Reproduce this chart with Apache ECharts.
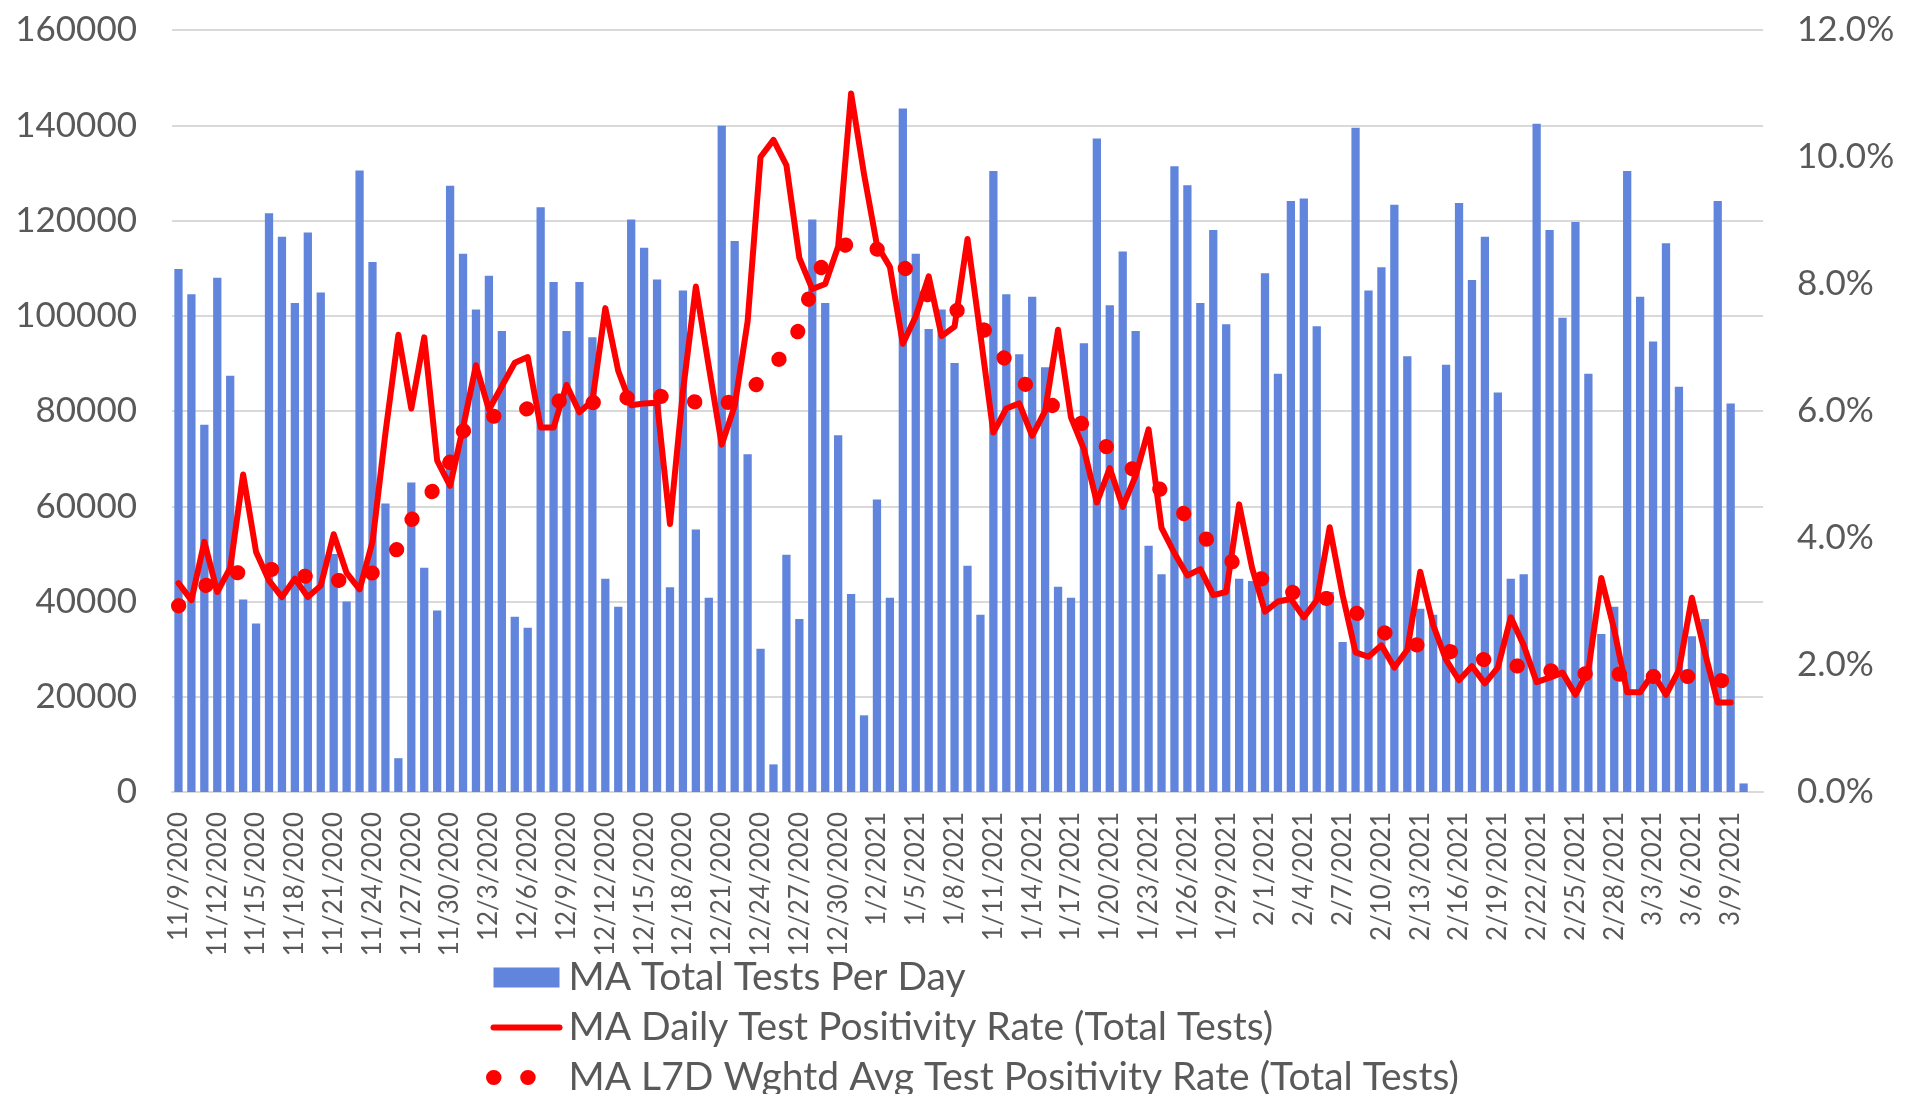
<!DOCTYPE html>
<html>
<head>
<meta charset="utf-8">
<script src="https://cdn.jsdelivr.net/npm/echarts@6/dist/echarts.min.js"></script>
<style>
  html, body { margin: 0; padding: 0; background: #ffffff; }
  #chart { width: 1907px; height: 1094px; }
</style>
</head>
<body>
<div id="chart"></div>
<script>
const dates = [
  "11/9/2020", "11/10/2020", "11/11/2020", "11/12/2020", "11/13/2020", "11/14/2020", "11/15/2020",
  "11/16/2020", "11/17/2020", "11/18/2020", "11/19/2020", "11/20/2020", "11/21/2020", "11/22/2020",
  "11/23/2020", "11/24/2020", "11/25/2020", "11/26/2020", "11/27/2020", "11/28/2020", "11/29/2020",
  "11/30/2020", "12/1/2020", "12/2/2020", "12/3/2020", "12/4/2020", "12/5/2020", "12/6/2020",
  "12/7/2020", "12/8/2020", "12/9/2020", "12/10/2020", "12/11/2020", "12/12/2020", "12/13/2020",
  "12/14/2020", "12/15/2020", "12/16/2020", "12/17/2020", "12/18/2020", "12/19/2020", "12/20/2020",
  "12/21/2020", "12/22/2020", "12/23/2020", "12/24/2020", "12/25/2020", "12/26/2020", "12/27/2020",
  "12/28/2020", "12/29/2020", "12/30/2020", "12/31/2020", "1/1/2021", "1/2/2021", "1/3/2021",
  "1/4/2021", "1/5/2021", "1/6/2021", "1/7/2021", "1/8/2021", "1/9/2021", "1/10/2021",
  "1/11/2021", "1/12/2021", "1/13/2021", "1/14/2021", "1/15/2021", "1/16/2021", "1/17/2021",
  "1/18/2021", "1/19/2021", "1/20/2021", "1/21/2021", "1/22/2021", "1/23/2021", "1/24/2021",
  "1/25/2021", "1/26/2021", "1/27/2021", "1/28/2021", "1/29/2021", "1/30/2021", "1/31/2021",
  "2/1/2021", "2/2/2021", "2/3/2021", "2/4/2021", "2/5/2021", "2/6/2021", "2/7/2021",
  "2/8/2021", "2/9/2021", "2/10/2021", "2/11/2021", "2/12/2021", "2/13/2021", "2/14/2021",
  "2/15/2021", "2/16/2021", "2/17/2021", "2/18/2021", "2/19/2021", "2/20/2021", "2/21/2021",
  "2/22/2021", "2/23/2021", "2/24/2021", "2/25/2021", "2/26/2021", "2/27/2021", "2/28/2021",
  "3/1/2021", "3/2/2021", "3/3/2021", "3/4/2021", "3/5/2021", "3/6/2021", "3/7/2021",
  "3/8/2021", "3/9/2021", "3/10/2021", "3/11/2021"
];

// total tests per day
const totalTests = [
  109800, 104500, 77100, 108000, 87400, 40400, 35400, 121500, 116600, 102700,
  117500, 104900, 50000, 40000, 130500, 111300, 60600, 7100, 65000, 47100,
  38100, 127300, 113000, 101300, 108400, 96800, 36800, 34500, 122800, 107100,
  96800, 107100, 95500, 44800, 38900, 120200, 114300, 107600, 43000, 105300,
  55100, 40800, 139900, 115700, 70900, 30100, 5800, 49800, 36300, 120200,
  102700, 74900, 41600, 16100, 61400, 40800, 143500, 113000, 97200, 101300,
  90100, 47500, 37200, 130400, 104500, 91900, 104000, 89200, 43100, 40800,
  94200, 137200, 102200, 113500, 96800, 51700, 45700, 131400, 127400, 102700,
  118000, 98200, 44800, 44300, 108900, 87800, 124100, 124600, 97800, 42000,
  31500, 139500, 105300, 110200, 123300, 91500, 38500, 37200, 89700, 123700,
  107500, 116600, 83900, 44800, 45700, 140300, 118000, 99600, 119700, 87800,
  33200, 38900, 130400, 104000, 94600, 115200, 85100, 32700, 36300, 124100,
  81600, 1800, null
];

// daily positivity rate, percent
const dailyRate = [
  3.29, 3.02, 3.94, 3.15, 3.53, 5.00, 3.78, 3.33, 3.07, 3.36,
  3.07, 3.25, 4.06, 3.45, 3.19, 3.94, 5.65, 7.20, 6.04, 7.16,
  5.22, 4.82, 5.74, 6.72, 6.02, 6.39, 6.76, 6.85, 5.74, 5.74,
  6.41, 5.98, 6.16, 7.62, 6.63, 6.09, 6.12, 6.13, 4.22, 6.31,
  7.96, 6.70, 5.47, 6.08, 7.41, 10.00, 10.27, 9.87, 8.41, 7.92,
  8.00, 8.59, 11.00, 9.73, 8.61, 8.27, 7.06, 7.49, 8.12, 7.18,
  7.33, 8.71, 7.20, 5.66, 6.04, 6.12, 5.61, 6.00, 7.28, 5.90,
  5.40, 4.56, 5.10, 4.49, 4.98, 5.71, 4.16, 3.76, 3.41, 3.51,
  3.10, 3.15, 4.53, 3.53, 2.84, 3.00, 3.04, 2.75, 3.02, 4.17,
  3.10, 2.20, 2.13, 2.31, 1.96, 2.24, 3.47, 2.63, 2.08, 1.76,
  1.98, 1.71, 1.96, 2.75, 2.31, 1.73, 1.80, 1.88, 1.53, 1.92,
  3.37, 2.55, 1.57, 1.57, 1.87, 1.53, 1.92, 3.06, 2.20, 1.41,
  1.41, null, null
];

// last 7 day weighted average positivity, percent
const weeklyRate = [
  2.93, 3.10, 3.24, 3.35, 3.43, 3.47, 3.49, 3.51, 3.48, 3.43,
  3.39, 3.35, 3.32, 3.35, 3.40, 3.45, 3.60, 3.85, 4.28, 4.55,
  4.85, 5.20, 5.68, 5.82, 5.91, 5.93, 5.95, 6.04, 6.14, 6.17,
  6.14, 6.12, 6.13, 6.16, 6.18, 6.22, 6.25, 6.24, 6.21, 6.18,
  6.14, 6.11, 6.10, 6.17, 6.25, 6.50, 6.75, 6.90, 7.30, 7.95,
  8.40, 8.55, 8.66, 8.66, 8.55, 8.43, 8.28, 8.09, 7.80, 7.68,
  7.60, 7.52, 7.35, 7.10, 6.78, 6.50, 6.33, 6.17, 6.02, 5.90,
  5.78, 5.60, 5.38, 5.20, 5.05, 4.90, 4.75, 4.55, 4.32, 4.08,
  3.87, 3.70, 3.54, 3.43, 3.33, 3.24, 3.15, 3.10, 3.07, 3.04,
  2.95, 2.83, 2.68, 2.53, 2.44, 2.36, 2.30, 2.26, 2.22, 2.19,
  2.14, 2.08, 2.04, 2.00, 1.97, 1.94, 1.91, 1.89, 1.87, 1.86,
  1.86, 1.86, 1.85, 1.84, 1.82, 1.82, 1.82, 1.82, 1.80, 1.76,
  1.74, null, null
];

const FONT = "Lato, 'Open Sans', sans-serif";
const TEXT = "#595959";
const GRID_LINE = "#d9d9d9";

const names = [
  "MA Total Tests Per Day",
  "MA Daily Test Positivity Rate (Total Tests)",
  "MA L7D Wghtd Avg Test Positivity Rate (Total Tests)",
];
const dotDash = [0.5, 33.7];
const hiddenSymbol = { color: "rgba(0,0,0,0)", opacity: 0, borderWidth: 0 };

const chart = echarts.init(document.getElementById("chart"), null, { renderer: "canvas" });

chart.setOption({
  animation: false,
  backgroundColor: "#ffffff",
  textStyle: { fontFamily: FONT },
  grid: { top: 30, bottom: 302, left: 172, right: 144 },
  legend: {
    orient: "vertical",
    left: 481,
    top: 953,
    height: 400,
    itemWidth: 66,
    itemHeight: 20,
    itemGap: 11,
    textStyle: {
      fontFamily: FONT,
      fontSize: 39,
      lineHeight: 39,
      color: TEXT,
      padding: [0, 0, 0, 4],
    },
    data: [
      { name: names[0], icon: "rect" },
      { name: names[1], lineStyle: { width: 6, cap: "round" }, itemStyle: hiddenSymbol },
      { name: names[2], lineStyle: { width: 15, type: dotDash, cap: "round" }, itemStyle: hiddenSymbol },
    ],
  },
  xAxis: {
    type: "category",
    data: dates,
    boundaryGap: true,
    axisTick: { show: false },
    axisLine: { lineStyle: { color: GRID_LINE, width: 2 } },
    axisLabel: {
      interval: 2,
      rotate: 90,
      margin: 20,
      fontSize: 26,
      color: TEXT,
      fontFamily: FONT,
    },
    splitLine: { show: false },
  },
  yAxis: [
    {
      type: "value",
      min: 0,
      max: 160000,
      interval: 20000,
      axisLine: { show: false },
      axisTick: { show: false },
      axisLabel: {
        fontSize: 35,
        color: TEXT,
        margin: 35,
        fontFamily: FONT,
        formatter: (v) => String(v),
      },
      splitLine: { lineStyle: { color: GRID_LINE, width: 2 } },
    },
    {
      type: "value",
      min: 0,
      max: 12,
      interval: 2,
      position: "right",
      axisLine: { show: false },
      axisTick: { show: false },
      axisLabel: {
        fontSize: 35,
        color: TEXT,
        margin: 34,
        fontFamily: FONT,
        formatter: (v) => v.toFixed(1) + "%",
      },
      splitLine: { show: false },
    },
  ],
  series: [
    {
      name: names[0],
      type: "bar",
      data: totalTests,
      barWidth: "64%",
      itemStyle: { color: "#6185dc" },
      yAxisIndex: 0,
      z: 1,
    },
    {
      name: names[1],
      type: "line",
      data: dailyRate,
      yAxisIndex: 1,
      symbol: "none",
      lineStyle: { color: "#ff0000", width: 6, join: "round", cap: "round" },
      itemStyle: { color: "#ff0000" },
      z: 2,
    },
    {
      name: names[2],
      type: "line",
      data: weeklyRate,
      yAxisIndex: 1,
      symbol: "none",
      lineStyle: { color: "#ff0000", width: 15, type: dotDash, cap: "round" },
      itemStyle: { color: "#ff0000" },
      z: 3,
    },
  ],
});
</script>
</body>
</html>
